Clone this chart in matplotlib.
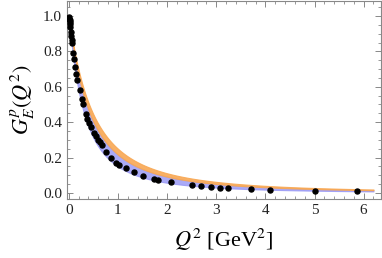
import numpy as np
import matplotlib.pyplot as plt
from matplotlib.ticker import MultipleLocator

plt.rcParams['font.family'] = ['Liberation Serif', 'DejaVu Serif']
plt.rcParams['mathtext.fontset'] = 'stix'

# experimental points (Q^2 in GeV^2, G_E^p)
q2_data = [0.005, 0.01, 0.015, 0.02, 0.025, 0.03, 0.04, 0.05, 0.055, 0.07,
           0.09, 0.10, 0.12, 0.15, 0.17, 0.22, 0.26, 0.29, 0.34, 0.37,
           0.41, 0.45, 0.51, 0.55, 0.59, 0.63, 0.68, 0.76, 0.85, 0.97,
           1.02, 1.17, 1.32, 1.51, 1.73, 1.82, 2.07, 2.50, 2.69, 2.89,
           3.08, 3.24, 3.71, 4.10, 5.01, 5.86]
ge_data = [0.995, 0.985, 0.975, 0.965, 0.955, 0.94, 0.91, 0.885, 0.865, 0.845,
           0.79, 0.76, 0.71, 0.675, 0.64, 0.58, 0.53, 0.50, 0.445, 0.42,
           0.395, 0.37, 0.34, 0.32, 0.30, 0.29, 0.27, 0.23, 0.20, 0.17,
           0.16, 0.14, 0.12, 0.096, 0.077, 0.075, 0.060, 0.043, 0.038, 0.034,
           0.030, 0.028, 0.023, 0.017, 0.013, 0.010]

# band scales (GeV^2) for the two model curves
blue_lo, blue_hi = 0.63, 0.87
orange_lo, orange_hi = 0.87, 1.0

q2 = np.linspace(0, 6.2, 400)


def dipole(q, lam2):
    return 1.0 / (1.0 + q / lam2) ** 2


fig = plt.figure(figsize=(3.82, 2.58), dpi=100)
ax = fig.add_axes([0.175, 0.229, 0.822, 0.767])

ax.fill_between(q2, dipole(q2, blue_lo), dipole(q2, blue_hi),
                color='#9595f5', alpha=0.8, lw=0.8, edgecolor='#9595f5')
ax.fill_between(q2, dipole(q2, orange_lo), dipole(q2, orange_hi),
                color='#f8a854', alpha=0.9, lw=0.8, edgecolor='#f8a854')
ax.plot(q2_data, ge_data, 'o', color='black', ms=3.6, zorder=5)

ax.set_xlim(-0.04, 6.35)
ax.set_ylim(-0.034, 1.085)
ax.xaxis.set_major_locator(MultipleLocator(1))
ax.xaxis.set_minor_locator(MultipleLocator(0.2))
ax.yaxis.set_major_locator(MultipleLocator(0.2))
ax.yaxis.set_minor_locator(MultipleLocator(0.05))
ax.tick_params(which='both', direction='in', top=True, right=True,
               color='#888888', labelsize=11, labelcolor='#222222')
ax.tick_params(which='major', length=4, width=0.7)
ax.tick_params(which='minor', length=2, width=0.6)
for s in ax.spines.values():
    s.set_color('#888888')
    s.set_linewidth(0.8)

ax.set_xlabel(r'$Q^2$ [GeV$^2$]', fontsize=16, labelpad=7)
ax.set_ylabel(r'$G_E^p(Q^2)$', fontsize=16, labelpad=4)

fig.savefig('out.png', dpi=100)
